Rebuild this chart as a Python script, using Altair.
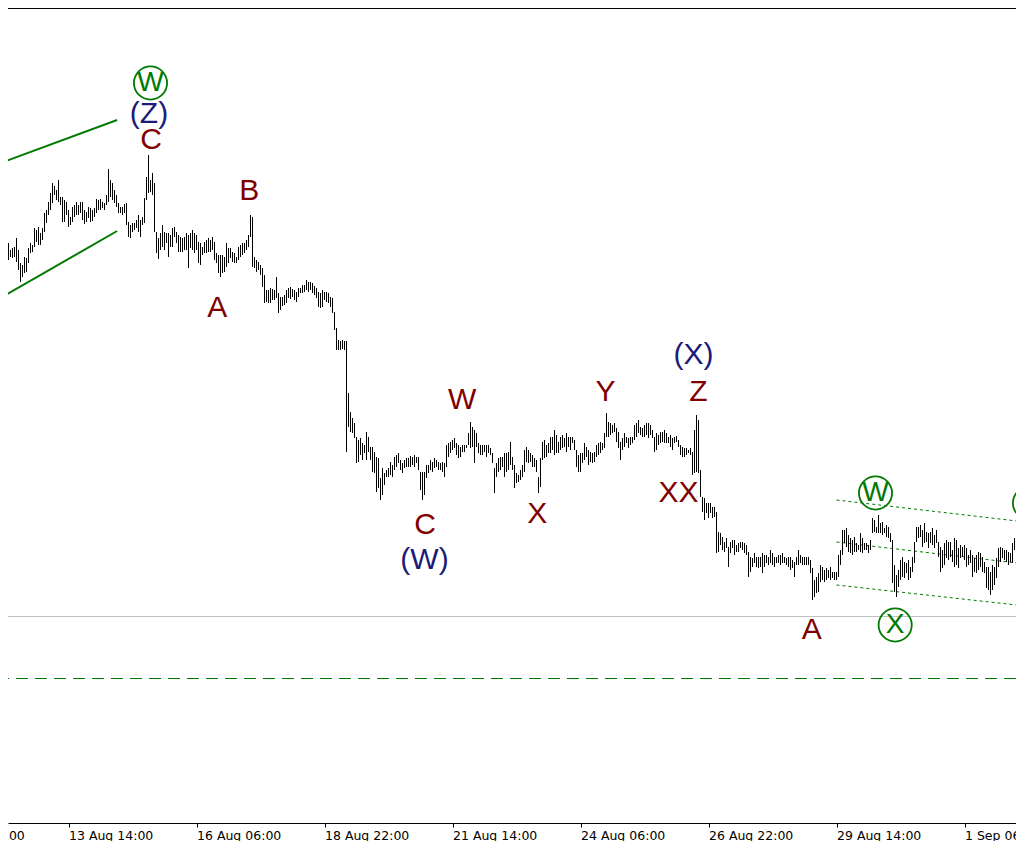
import altair as alt
import pandas as pd

# ---------------- H1 bars (price in chart points), first bar 12 Aug 08:00 ----------------
FIRST_BAR = "2021-08-12 08:00"

HIGH = [
    757, 750, 752, 753, 762, 750, 737, 735, 743, 742,
    752, 757, 755, 772, 770, 773, 767, 772, 787, 790,
    798, 807, 817, 814, 810, 820, 803, 803, 800, 798,
    790, 783, 793, 795, 798, 795, 798, 798, 790, 788,
    793, 792, 790, 792, 801, 800, 801, 798, 797, 805,
    831, 820, 817, 810, 805, 797, 793, 793, 796, 797,
    778, 775, 777, 777, 780, 785, 780, 783, 802, 823,
    845, 820, 827, 817, 768, 762, 767, 775, 768, 767,
    767, 765, 772, 773,
    768, 765, 763, 762, 763, 767, 765, 767, 770, 767,
    765, 758, 757, 753, 758, 760, 762, 760, 763, 758,
    747, 745, 745, 745, 743, 757, 752, 752, 748, 747,
    743, 753, 755, 757, 757, 760, 765, 785, 783, 743,
    740, 738, 735, 732, 725, 710, 710, 712, 711, 710,
    723, 707, 703, 703, 705, 710, 712, 713, 711, 710,
    708, 712, 712, 715, 715, 720, 718, 718, 717, 714,
    712, 708, 707, 710, 708, 708, 707, 703, 702, 688,
    672, 660, 659, 660, 659, 659, 607, 588, 582, 577,
    563, 560, 562, 557, 555, 568, 563, 553, 553, 548,
    543, 542, 522, 532, 527, 530, 532, 538, 535, 543,
    545, 547, 540, 537, 540, 542, 542, 544, 543, 545,
    543, 543, 528, 528, 528, 535, 535, 540, 538, 542,
    540, 538, 537, 538, 537, 555, 557, 558, 560, 562,
    557, 555, 553, 555, 555, 555, 567, 578, 573, 570,
    567, 557, 555, 555, 555, 555, 555, 552, 547, 532,
    537, 542, 543, 543, 547,
    547, 548, 558, 543, 535, 527, 525, 530, 535, 550,
    553, 550, 547, 545, 542, 540, 523, 542, 558, 560,
    555, 557, 563, 563, 570, 565, 558, 563, 565, 562,
    567, 563, 563, 563, 560, 550, 545, 547, 547, 557,
    553, 550, 548, 547, 548, 555, 557, 558, 557, 567,
    587, 578, 577, 575, 577, 572, 568, 558, 562, 567,
    563, 562, 563, 563, 575, 577, 580, 573, 572, 575,
    577, 577, 575, 570, 563, 567, 565, 568, 568, 570,
    567, 563, 565, 562, 563, 564, 560, 555, 553, 552,
    552, 550, 552, 548, 570, 585, 580,
    530, 503, 502, 497, 497, 497, 493, 493, 488, 468,
    467, 463, 458, 462, 453, 458, 460, 460, 455, 457,
    458, 458, 457, 455, 448, 443, 442, 447, 443, 443,
    443, 447, 445, 445, 443, 450, 447, 443, 443, 445,
    445, 447, 443, 442, 443, 443, 440, 438, 443, 450,
    445, 443, 443, 443, 443, 440, 432, 420, 423, 427,
    435, 433, 430, 432, 430, 433, 428, 428, 428, 445,
    450, 470, 470, 472, 465, 462, 460, 463,
    457, 455, 467, 462, 457, 457, 455, 460, 482, 480,
    473, 485, 477, 478, 472, 475, 473, 467, 460, 435,
    425, 430, 440, 443, 438, 437, 440, 433, 443, 458,
    473, 473, 475, 470, 477, 468, 467, 468, 472, 465,
    470, 458, 453, 450, 457, 460, 458, 458, 450, 462,
    460, 452, 455, 453, 455, 452, 445, 450, 445, 442,
    445, 448, 447, 443, 438, 433, 433, 428, 435, 433,
    442, 452, 453, 452, 450, 450, 448, 447, 457, 462,
    457, 453, 450, 450,
]

LOW = [
    740, 743, 742, 743, 738, 730, 718, 723, 727, 728,
    737, 747, 748, 753, 758, 755, 755, 760, 768, 777,
    785, 790, 797, 805, 800, 798, 795, 778, 778, 785,
    773, 775, 778, 783, 785, 785, 787, 780, 776, 778,
    782, 778, 779, 783, 787, 790, 790, 792, 790, 795,
    798, 803, 800, 797, 793, 787, 787, 785, 787, 775,
    763, 762, 768, 770, 772, 768, 763, 775, 777, 800,
    807, 808, 805, 768, 747, 741, 750, 753, 750, 757,
    743, 753, 753, 763,
    757, 748, 748, 748, 750, 750, 732, 752, 750, 747,
    750, 737, 735, 745, 747, 747, 748, 748, 750, 740,
    737, 727, 723, 727, 728, 733, 737, 742, 738, 737,
    737, 740, 743, 745, 747, 750, 753, 763, 733, 732,
    728, 730, 725, 713, 697, 698, 697, 697, 700, 700,
    702, 687, 690, 694, 695, 697, 702, 701, 703, 700,
    698, 703, 707, 707, 708, 710, 708, 710, 707, 705,
    702, 693, 692, 693, 700, 698, 697, 693, 687, 670,
    650, 650, 650, 651, 650, 548, 573, 568, 567, 562,
    537, 538, 545, 540, 547, 540, 548, 540, 528, 527,
    508, 512, 500, 505, 515, 523, 523, 525, 523, 530,
    533, 537, 530, 527, 532, 533, 533, 533, 535, 533,
    537, 530, 510, 500, 505, 522, 527, 530, 528, 532,
    533, 530, 530, 528, 523, 533, 543, 547, 550, 552,
    545, 542, 543, 548, 548, 552, 555, 552, 553, 537,
    553, 547, 545, 545, 548, 543, 547, 545, 537, 507,
    523, 528, 530, 533, 523,
    528, 530, 535, 530, 512, 517, 518, 520, 523, 528,
    538, 537, 538, 533, 533, 528, 507, 513, 540, 542,
    543, 547, 547, 550, 545, 547, 547, 550, 552, 553,
    548, 553, 550, 557, 550, 533, 528, 528, 537, 540,
    543, 535, 538, 537, 538, 543, 545, 547, 550, 552,
    563, 563, 565, 567, 568, 558, 552, 540, 550, 553,
    557, 552, 555, 557, 560, 563, 567, 565, 563, 563,
    565, 562, 565, 562, 548, 550, 555, 557, 558, 557,
    557, 557, 553, 550, 557, 558, 553, 545, 543, 543,
    545, 547, 545, 525, 527, 528, 527,
    503, 488, 480, 487, 482, 487, 482, 483, 447, 448,
    455, 450, 448, 452, 433, 447, 452, 445, 448, 448,
    452, 450, 447, 445, 423, 428, 433, 437, 433, 432,
    433, 427, 433, 437, 435, 437, 435, 433, 437, 437,
    435, 437, 437, 435, 433, 430, 432, 423, 435, 435,
    437, 435, 435, 435, 435, 427, 400, 403, 407, 408,
    418, 420, 418, 420, 422, 420, 422, 420, 420, 423,
    435, 445, 457, 453, 448, 447, 445, 448,
    448, 450, 448, 447, 450, 450, 447, 450, 467, 468,
    467, 467, 467, 465, 467, 463, 462, 458, 417, 408,
    403, 413, 420, 423, 422, 427, 420, 422, 428, 437,
    458, 462, 463, 453, 457, 458, 452, 457, 455, 452,
    457, 443, 428, 432, 435, 442, 440, 443, 438, 433,
    435, 432, 442, 443, 440, 433, 435, 437, 423, 428,
    427, 430, 433, 428, 427, 412, 410, 405, 410, 415,
    422, 433, 438, 442, 440, 438, 435, 438, 437, 450,
    447, 443, 442, 445,
]

# ---------------- axis ticks ----------------
TICK_TIMES = ["2021-08-10 22:00", "2021-08-13 14:00", "2021-08-16 06:00", "2021-08-18 22:00",
              "2021-08-21 14:00", "2021-08-24 06:00", "2021-08-26 22:00", "2021-08-29 14:00",
              "2021-09-01 06:00"]
TICK_LABELS = ["10 Aug 22:00", "13 Aug 14:00", "16 Aug 06:00", "18 Aug 22:00", "21 Aug 14:00",
               "24 Aug 06:00", "26 Aug 22:00", "29 Aug 14:00", "1 Sep 06:00"]
VIEW_START = "2021-08-12 07:45"
VIEW_END = "2021-09-02 07:45"
PLOT_W, PLOT_H = 1008, 815
PRICE_RANGE = [992 - PLOT_H, 992]

# ---------------- channel lines ----------------
CHANNEL_ID = ["up", "up", "lo", "lo"]
CHANNEL_T = ["2021-08-12 04:00", "2021-08-14 14:18", "2021-08-12 04:00", "2021-08-14 14:18"]
CHANNEL_P = [837, 880, 702, 769]

DOT_ID = ["a", "a", "b", "b", "c", "c"]
DOT_T = ["2021-08-29 14:00", "2021-09-02 12:30"] * 3
DOT_P = [500, 478, 458, 436, 415, 394]

GRAY_LEVEL = [383.5]
GREEN_LEVEL = [321.5]

# ---------------- wave labels ----------------
LBL_TEXT = ["(Z)", "C", "B", "A", "W", "C", "(W)", "X", "Y", "(X)", "Z", "XX", "A"]
LBL_T = ["2021-08-15 06:15", "2021-08-15 07:15", "2021-08-17 08:24", "2021-08-16 16:21",
         "2021-08-21 18:51", "2021-08-21 00:21", "2021-08-21 00:00", "2021-08-23 08:21",
         "2021-08-24 18:30", "2021-08-26 14:30", "2021-08-26 17:00", "2021-08-26 07:00",
         "2021-08-29 01:36"]
LBL_P = [886, 860, 809, 692.5, 600, 475, 440, 486, 608, 645, 608, 507, 370]
LBL_COLOR = ["#1b1b78", "#800000", "#800000", "#800000", "#800000", "#800000", "#1b1b78",
             "#800000", "#800000", "#1b1b78", "#800000", "#800000", "#800000"]

CIRC_TEXT = ["W", "W", "X", "Y"]
CIRC_T = ["2021-08-15 07:00", "2021-08-30 09:30", "2021-08-30 19:20", "2021-09-02 14:30"]
CIRC_P = [917, 507, 375, 497]

GREEN = "#007a00"


def iso(s):
    return pd.Timestamp(s).strftime("%Y-%m-%dT%H:%M:%SZ")


def ms(s):
    return int(pd.Timestamp(s, tz="UTC").value // 10**6)


times = pd.date_range(FIRST_BAR, periods=len(HIGH), freq="h")
bars = pd.DataFrame({"t": times.strftime("%Y-%m-%dT%H:%M:%SZ"), "high": HIGH, "low": LOW[:len(HIGH)]})

xscale = alt.Scale(type="utc", domain=[ms(VIEW_START), ms(VIEW_END)], nice=False)
yscale = alt.Scale(domain=PRICE_RANGE, nice=False, zero=False)

xaxis = alt.Axis(values=[ms(s) for s in TICK_TIMES],
                 labelExpr="utcFormat(datum.value, '%-d %b %H:%M')",
                 labelAlign="left", labelBaseline="top", labelFont="DejaVu Sans", labelFontSize=12.5,
                 labelColor="black", tickColor="black", tickSize=4, tickWidth=1,
                 domainColor="black", domainWidth=1, labelPadding=2, grid=False, title=None,
                 labelOverlap=False, labelFlush=False)

X = alt.X("t:T", scale=xscale, axis=xaxis)


def Y(field):
    return alt.Y(field, scale=yscale, axis=None)


bar_layer = alt.Chart(bars).mark_rule(color="black", strokeWidth=1, clip=True).encode(
    x=X, y=Y("high:Q"), y2="low:Q")

chan = pd.DataFrame({"id": CHANNEL_ID, "t": [iso(s) for s in CHANNEL_T], "p": CHANNEL_P})
chan_layer = alt.Chart(chan).mark_line(color=GREEN, strokeWidth=2, clip=True).encode(
    x=X, y=Y("p:Q"), detail="id:N")

dots = pd.DataFrame({"id": DOT_ID, "t": [iso(s) for s in DOT_T], "p": DOT_P})
dot_layer = alt.Chart(dots).mark_line(color=GREEN, strokeWidth=1, strokeDash=[3, 3], clip=True).encode(
    x=X, y=Y("p:Q"), detail="id:N")

gray_layer = alt.Chart(pd.DataFrame({"p": GRAY_LEVEL})).mark_rule(color="#c0c0c0", strokeWidth=1).encode(
    y=Y("p:Q"))
green_layer = alt.Chart(pd.DataFrame({"p": GREEN_LEVEL})).mark_rule(
    color=GREEN, strokeWidth=1, strokeDash=[12, 7]).encode(y=Y("p:Q"))

top_border = alt.Chart(pd.DataFrame({"p": [0]})).mark_rule(color="black", strokeWidth=1).encode(
    y=alt.value(0.5))

# first tick label lies left of the visible window (only its tail shows)
cut_lbl = pd.DataFrame({"t": [iso(TICK_TIMES[0])], "text": [TICK_LABELS[0]]})
cut_layer = alt.Chart(cut_lbl).mark_text(font="DejaVu Sans", fontSize=12.5, align="left",
                                         baseline="top", color="black").encode(
    x=X, y=alt.value(PLOT_H + 6.5), text="text:N")

lbl = pd.DataFrame({"text": LBL_TEXT, "t": [iso(s) for s in LBL_T], "p": LBL_P, "c": LBL_COLOR})
lbl_layer = alt.Chart(lbl).mark_text(font="Liberation Sans", fontSize=30, align="center",
                                     baseline="middle", clip=True).encode(
    x=X, y=Y("p:Q"), text="text:N", color=alt.Color("c:N", scale=None))

circ = pd.DataFrame({"text": CIRC_TEXT, "t": [iso(s) for s in CIRC_T], "p": CIRC_P})
ring_layer = alt.Chart(circ).mark_point(shape="circle", size=1100, filled=False, color=GREEN,
                                        strokeWidth=1.8, opacity=1, clip=True).encode(
    x=X, y=Y("p:Q"))
circ_text_layer = alt.Chart(circ).mark_text(font="Liberation Sans", fontSize=28, align="center",
                                            baseline="middle", color=GREEN, clip=True).encode(
    x=X, y=Y("p:Q"), text="text:N")

chart = alt.layer(
    gray_layer, green_layer, chan_layer, dot_layer, bar_layer, top_border, cut_layer,
    lbl_layer, ring_layer, circ_text_layer,
).properties(
    width=PLOT_W, height=PLOT_H,
    autosize=alt.AutoSizeParams(type="none"),
    padding={"left": 0, "top": 0, "right": 0, "bottom": 18},
    background="white",
).configure_view(strokeWidth=0)

chart.save("out.html", embed_options={"renderer": "svg", "actions": False})
